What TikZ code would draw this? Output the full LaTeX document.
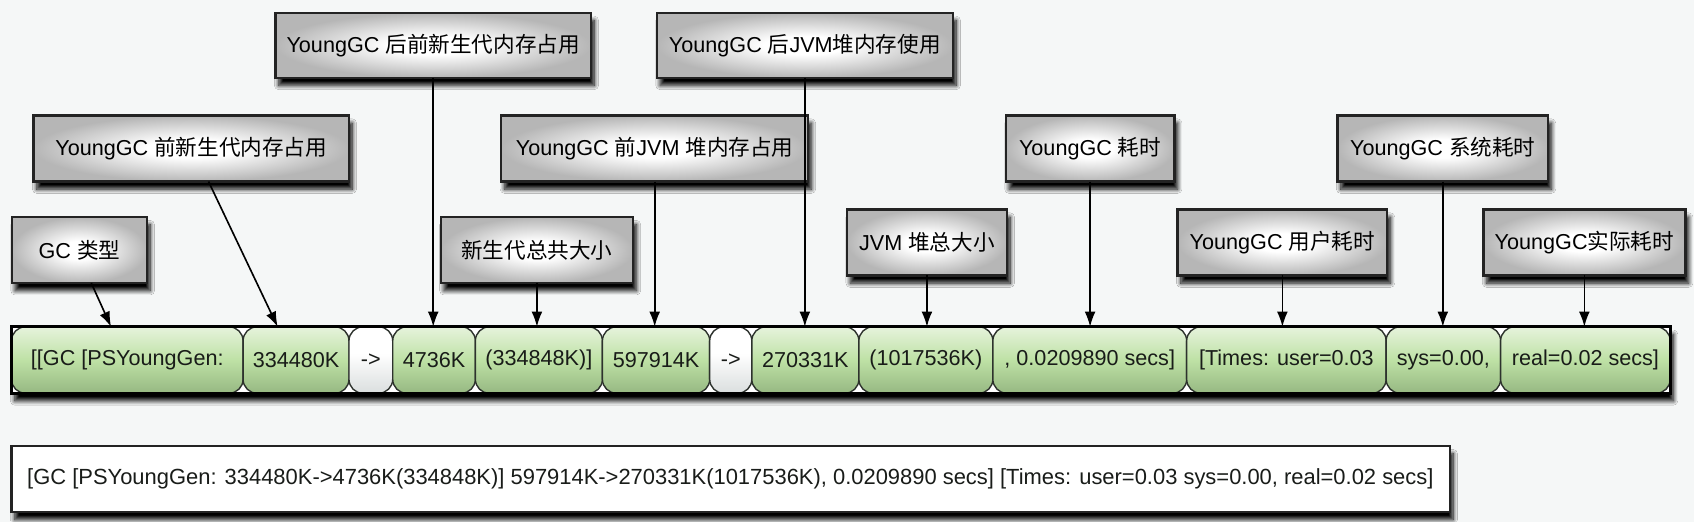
\documentclass[tikz,border=0pt]{standalone}
\usepackage{fontspec}
\setmainfont{Liberation Sans}
\newfontfamily\cjk{Noto Sans CJK SC}
\usetikzlibrary{arrows.meta,shadows.blur}
\definecolor{bgc}{RGB}{245,247,247}
\definecolor{gtop}{RGB}{230,243,220}
\definecolor{gmid}{RGB}{190,225,165}
\definecolor{gbot}{RGB}{150,184,130}
\definecolor{wbot}{RGB}{218,222,222}
\definecolor{lblout}{RGB}{182,182,182}
\definecolor{edgec}{RGB}{35,35,35}
\definecolor{segline}{RGB}{45,50,45}
\definecolor{txtc}{RGB}{25,28,25}
\pgfdeclareverticalshading{greenseg}{100bp}{color(0bp)=(gbot); color(25bp)=(gbot); color(50bp)=(gmid); color(75bp)=(gtop); color(100bp)=(gtop)}
\pgfdeclareverticalshading{whiteseg}{100bp}{color(0bp)=(wbot); color(25bp)=(wbot); color(55bp)=(white); color(100bp)=(white)}
\pgfdeclareradialshading{lblshade}{\pgfpoint{0bp}{0bp}}{color(0bp)=(white); color(7bp)=(white); color(25bp)=(lblout); color(50bp)=(lblout)}
\tikzset{
  fnt/.style={font=\fontsize{20}{24}\selectfont},
  shad/.style={blur shadow={shadow xshift=3pt, shadow yshift=-7pt, shadow blur radius=4pt, shadow blur steps=12, shadow opacity=100}},
  lbl/.style={draw=edgec, line width=2.2pt, shading=lblshade, shad, inner sep=0pt, outer sep=0pt, text=black, fnt},
  seg/.style={draw=segline, line width=1.3pt, rounded corners=13pt, shading=greenseg, minimum height=61.5pt, inner sep=0pt, outer sep=0pt, text=txtc, fnt},
  wseg/.style={seg, shading=whiteseg},
  barbox/.style={draw=black, line width=2.5pt, fill=white, shad, inner sep=0pt, outer sep=0pt},
  arr/.style={-{Latex[length=14pt,width=10pt]}, line width=1.5pt, draw=black}
}
\begin{document}
\begin{tikzpicture}[x=1pt,y=-1pt]
\useasboundingbox (0,0) rectangle (1568,483);
\fill[bgc] (0,0) rectangle (1568,483);

% label boxes
\node[lbl, minimum width=125pt, minimum height=61pt] (lA) at (73.5,231.5) {GC {\cjk 类型}};
\node[lbl, minimum width=292pt, minimum height=61pt] (lB) at (177,137.5) {YoungGC {\cjk 前新生代内存占用}};
\node[lbl, minimum width=292pt, minimum height=60pt] (lC) at (401,42) {YoungGC {\cjk 后前新生代内存占用}};
\node[lbl, minimum width=178pt, minimum height=61pt] (lD) at (497,231.5) {{\cjk 新生代总共大小}};
\node[lbl, minimum width=284pt, minimum height=61pt] (lE) at (606,137.5) {YoungGC {\cjk 前}JVM {\cjk 堆内存占用}};
\node[lbl, minimum width=274pt, minimum height=60pt] (lF) at (745,42) {YoungGC {\cjk 后}JVM{\cjk 堆内存使用}};
\node[lbl, minimum width=148pt, minimum height=61pt] (lG) at (858,224.5) {JVM {\cjk 堆总大小}};
\node[lbl, minimum width=156pt, minimum height=61pt] (lH) at (1009,137.5) {YoungGC {\cjk 耗时}};
\node[lbl, minimum width=194pt, minimum height=61pt] (lI) at (1187,224.5) {YoungGC {\cjk 用户耗时}};
\node[lbl, minimum width=195pt, minimum height=61pt] (lJ) at (1335.5,137.5) {YoungGC {\cjk 系统耗时}};
\node[lbl, minimum width=187pt, minimum height=61pt] (lK) at (1466.5,224.5) {YoungGC{\cjk 实际耗时}};

% bar
\node[barbox, minimum width=1535.4pt, minimum height=61.5pt] (bar) at (778.3,333.25) {};
\node[seg, minimum width=214.4pt] (s1) at (117.8,333.25) {[[GC [PSYoungGen:};
\node[seg, minimum width=98pt] (s2) at (274,333.25) {334480K};
\node[wseg, minimum width=40.5pt] (s3) at (343.25,333.25) {->};
\node[seg, minimum width=76.5pt] (s4) at (401.75,333.25) {4736K};
\node[seg, minimum width=117.6pt] (s5) at (498.8,333.25) {(334848K)]};
\node[seg, minimum width=99.3pt] (s6) at (607.25,333.25) {597914K};
\node[wseg, minimum width=39pt] (s7) at (676.4,333.25) {->};
\node[seg, minimum width=99.1pt] (s8) at (745.45,333.25) {270331K};
\node[seg, minimum width=124pt] (s9) at (857,333.25) {(1017536K)};
\node[seg, minimum width=179.4pt] (s10) at (1008.7,333.25) {, 0.0209890 secs]};
\node[seg, minimum width=184.6pt] (s11) at (1190.7,333.25) {[Times: user=0.03};
\node[seg, minimum width=106pt] (s12) at (1336,333.25) {sys=0.00,};
\node[seg, minimum width=157pt] (s13) at (1467.5,333.25) {real=0.02 secs]};
\draw[black, line width=2.5pt] (bar.north west) rectangle (bar.south east);

% connectors
\draw[arr] ([xshift=11pt]lA.south) -- ([xshift=-15pt]s1.north);
\draw[arr] ([xshift=16pt]lB.south) -- ([xshift=-17pt]s2.north);
\draw[arr] (lC.south) -- (lC.south |- s4.north);
\draw[arr] (lD.south) -- (lD.south |- s5.north);
\draw[arr] (lE.south) -- (lE.south |- s6.north);
\draw[arr] (lF.south) -- (lF.south |- s8.north);
\draw[arr] (lG.south) -- (lG.south |- s9.north);
\draw[arr] (lH.south) -- (lH.south |- s10.north);
\draw[arr] (lI.south) -- (lI.south |- s11.north);
\draw[arr] (lJ.south) -- (lJ.south |- s12.north);
\draw[arr] (lK.south) -- (lK.south |- s13.north);

% bottom line
\node[draw=edgec, line width=2pt, fill=white, shad, inner sep=0pt, outer sep=0pt, minimum width=1331.4pt, minimum height=61pt] (lbot) at (676.3,443.5) {};
\node[anchor=west, font=\fontsize{20.3}{24}\selectfont, text=txtc, inner sep=0pt] (btxt) at ([xshift=14.4pt]lbot.west) {[GC [PSYoungGen: 334480K->4736K(334848K)] 597914K->270331K(1017536K), 0.0209890 secs] [Times: user=0.03 sys=0.00, real=0.02 secs]};
\end{tikzpicture}
\end{document}
